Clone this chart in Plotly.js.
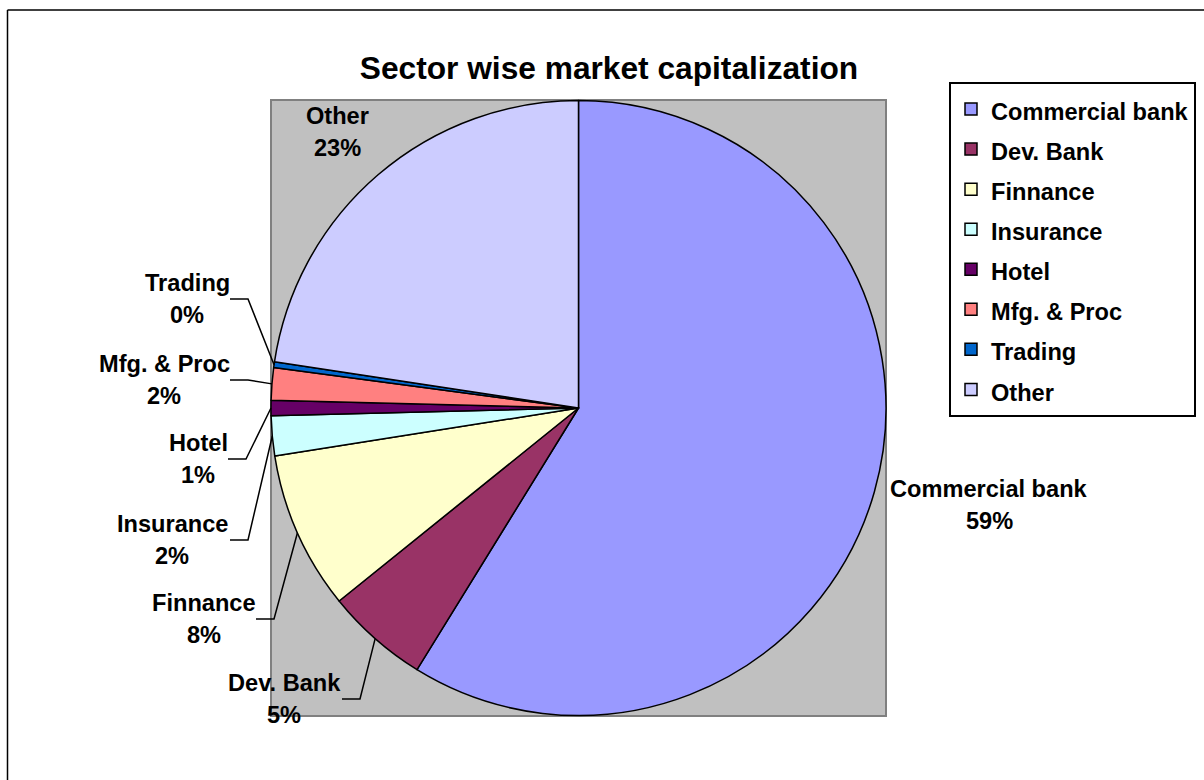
<!DOCTYPE html>
<html><head><meta charset="utf-8">
<script src="https://cdn.plot.ly/plotly-3.0.1.min.js"></script>
<style>html,body{margin:0;padding:0;background:#fff}#chart{width:1204px;height:780px}</style>
</head><body><div id="chart"></div>
<script>
// ---- data ----
const categories = ['Commercial bank','Dev. Bank','Finnance','Insurance','Hotel','Mfg. & Proc','Trading','Other'];
const shares = [58.8, 5.4, 8.3, 2.1, 0.8, 1.7, 0.3, 22.6];
const sliceColors = ['#9999FF','#993366','#FFFFCC','#CCFFFF','#660066','#FF8080','#0066CC','#CCCCFF'];
const chartTitle = 'Sector wise market capitalization';

// ---- label placement (layout, in pixels) ----
const labelCenterPx = [[989,505],[284,699],[204,619],[172,540],[198,459],[164,380],[187,299],[337,132]];
const leaderStartPx = [null, 342, 256, 230, 228, 230, 230, null];

const W = 1204, H = 780;
const M = {l: 271, r: 318, t: 100, b: 64, autoexpand: false};
const pw = W - M.l - M.r, ph = H - M.t - M.b;
const px2x = p => (p - M.l) / pw;
const py2y = p => 1 - (p - M.t) / ph;
const FONT = 'Liberation Sans, Arial, sans-serif';
const LBL = 23.6;

const legendLabels = categories.map(c => '<span style="font-size:' + LBL + 'px">' + c + '</span>');

const trace = {
  type: 'pie',
  labels: legendLabels,
  text: categories,
  values: shares,
  sort: false,
  direction: 'clockwise',
  rotation: 0,
  marker: {colors: sliceColors, line: {color: '#000', width: 1.5}},
  textinfo: 'none',
  hoverinfo: 'text+percent',
  domain: {x: [0, 1], y: [0, 1]}
};

// pie geometry derived from the domain
const pcx = M.l + pw / 2, pcy = M.t + ph / 2, pr = Math.min(pw, ph) / 2;
const total = shares.reduce((a, b) => a + b, 0);

const annotations = [];
const shapes = [
  {type: 'rect', xref: 'paper', yref: 'paper', x0: 0, x1: 1, y0: 0, y1: 1, layer: 'below',
   fillcolor: '#C0C0C0', line: {color: '#808080', width: 2}},
  {type: 'line', xref: 'paper', yref: 'paper', x0: px2x(7.5), x1: px2x(1215), y0: py2y(10), y1: py2y(10),
   line: {color: '#000', width: 1.5}},
  {type: 'line', xref: 'paper', yref: 'paper', x0: px2x(7.5), x1: px2x(7.5), y0: py2y(10), y1: py2y(800),
   line: {color: '#000', width: 1.5}}
];

let cum = 0;
shares.forEach((v, i) => {
  const frac = v / total;
  const mid = (cum + frac / 2) * 2 * Math.PI;
  cum += frac;
  const [lx, ly] = labelCenterPx[i];
  const fnt = {family: FONT, size: LBL, color: '#000', weight: 'bold'};
  annotations.push({xref: 'paper', yref: 'paper', x: px2x(lx), y: py2y(ly - 16), text: categories[i],
    showarrow: false, xanchor: 'center', yanchor: 'middle', font: fnt});
  annotations.push({xref: 'paper', yref: 'paper', x: px2x(lx), y: py2y(ly + 16), text: Math.round(frac * 100) + '%',
    showarrow: false, xanchor: 'center', yanchor: 'middle', font: fnt});
  if (leaderStartPx[i] !== null) {
    const ex = pcx + pr * Math.sin(mid), ey = pcy - pr * Math.cos(mid);
    const sx = leaderStartPx[i], kx = sx + 18;
    shapes.push({type: 'path', xref: 'paper', yref: 'paper',
      path: 'M ' + px2x(sx) + ' ' + py2y(ly) + ' L ' + px2x(kx) + ' ' + py2y(ly) + ' L ' + px2x(ex) + ' ' + py2y(ey),
      line: {color: '#000', width: 1.5}});
  }
});

const layout = {
  width: W, height: H,
  margin: M,
  paper_bgcolor: '#fff',
  font: {family: FONT, color: '#000'},
  title: {text: chartTitle, font: {family: FONT, size: 31.7, color: '#000', weight: 'bold'},
          x: 609 / W, xanchor: 'center', y: 1 - 68 / H, yanchor: 'middle'},
  showlegend: true,
  legend: {
    x: px2x(949), xanchor: 'left', y: py2y(82), yanchor: 'top',
    bgcolor: '#fff', bordercolor: '#000', borderwidth: 2,
    font: {family: FONT, size: 28.5, color: '#000', weight: 'bold'},
    traceorder: 'normal'
  },
  annotations: annotations,
  shapes: shapes
};

Plotly.newPlot('chart', [trace], layout, {displayModeBar: false, staticPlot: true});
</script>
</body></html>
